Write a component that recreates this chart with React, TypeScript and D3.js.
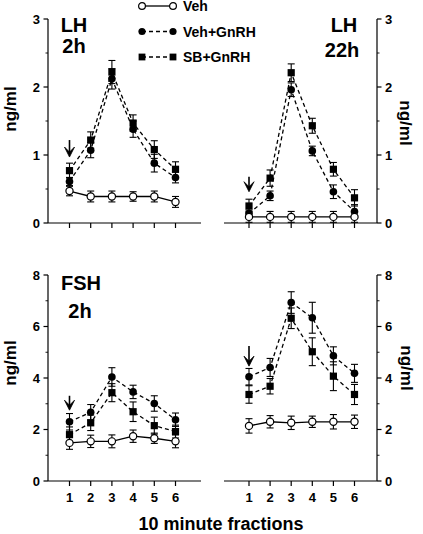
import React from "react";
import * as d3 from "d3";

// ---------- data ----------
const fractions = [1, 2, 3, 4, 5, 6];

const lh2hVeh = [0.47, 0.39, 0.39, 0.39, 0.39, 0.31];
const lh2hVehErr = [0.07, 0.08, 0.08, 0.07, 0.08, 0.08];
const lh2hVehGnrh = [0.61, 1.07, 2.12, 1.38, 0.88, 0.67];
const lh2hVehGnrhErr = [0.06, 0.11, 0.15, 0.12, 0.13, 0.08];
const lh2hSbGnrh = [0.77, 1.22, 2.22, 1.47, 1.08, 0.79];
const lh2hSbGnrhErr = [0.11, 0.12, 0.17, 0.12, 0.13, 0.11];

const lh22hVeh = [0.09, 0.09, 0.09, 0.09, 0.09, 0.09];
const lh22hVehErr = [0.08, 0.08, 0.08, 0.08, 0.08, 0.08];
const lh22hVehGnrh = [0.14, 0.4, 1.96, 1.06, 0.46, 0.17];
const lh22hVehGnrhErr = [0.05, 0.07, 0.1, 0.07, 0.1, 0.1];
const lh22hSbGnrh = [0.25, 0.66, 2.21, 1.43, 0.79, 0.37];
const lh22hSbGnrhErr = [0.1, 0.12, 0.13, 0.11, 0.1, 0.12];

const fsh2hVeh = [1.48, 1.54, 1.54, 1.74, 1.66, 1.54];
const fsh2hVehErr = [0.25, 0.24, 0.25, 0.24, 0.2, 0.25];
const fsh2hVehGnrh = [2.3, 2.67, 4.04, 3.46, 3.01, 2.38];
const fsh2hVehGnrhErr = [0.32, 0.3, 0.36, 0.26, 0.3, 0.26];
const fsh2hSbGnrh = [1.8, 2.26, 3.43, 2.69, 2.15, 1.92];
const fsh2hSbGnrhErr = [0.3, 0.3, 0.35, 0.38, 0.33, 0.25];

const fsh22hVeh = [2.14, 2.3, 2.26, 2.3, 2.3, 2.3];
const fsh22hVehErr = [0.28, 0.24, 0.26, 0.22, 0.28, 0.26];
const fsh22hVehGnrh = [4.05, 4.41, 6.93, 6.34, 4.86, 4.18];
const fsh22hVehGnrhErr = [0.32, 0.35, 0.42, 0.6, 0.35, 0.35];
const fsh22hSbGnrh = [3.36, 3.68, 6.32, 5.02, 4.07, 3.36];
const fsh22hSbGnrhErr = [0.34, 0.3, 0.4, 0.54, 0.56, 0.39];

const lhTicks = [0, 1, 2, 3];
const lhMinor = [0.5, 1.5, 2.5];
const fshTicks = [0, 2, 4, 6, 8];
const fshMinor = [1, 3, 5, 7];

const legendLabels = ["Veh", "Veh+GnRH", "SB+GnRH"];
const yLabel = "ng/ml";
const xLabel = "10 minute fractions";

// arrow annotations [top value, tip value] at fraction 1
const arrowLh2h = [1.22, 0.97];
const arrowLh22h = [0.68, 0.46];
const arrowFsh2h = [3.31, 2.75];
const arrowFsh22h = [5.24, 4.46];

// ---------- layout ----------
const FONT = "'Liberation Sans', Arial, Helvetica, sans-serif";

type Panel = {
  side: "left" | "right";
  x0: number; x1: number;
  axisStart: number; axisEnd: number;
  yTop: number; yBottom: number;
  domainMax: number;
  ticks: number[]; minor: number[];
  veh: number[]; vehErr: number[];
  vg: number[]; vgErr: number[];
  sb: number[]; sbErr: number[];
  arrow: number[];
  title: string[]; titleX: number[]; titleY: number[];
  labelX: number; labelY: number;
  showXLabels: boolean;
};

const panels: Panel[] = [
  {
    side: "left", x0: 69.5, x1: 175.5, axisStart: 48, axisEnd: 201,
    yTop: 19, yBottom: 223, domainMax: 3, ticks: lhTicks, minor: lhMinor,
    veh: lh2hVeh, vehErr: lh2hVehErr, vg: lh2hVehGnrh, vgErr: lh2hVehGnrhErr,
    sb: lh2hSbGnrh, sbErr: lh2hSbGnrhErr, arrow: arrowLh2h,
    title: ["LH", "2h"], titleX: [74, 74], titleY: [32, 53],
    labelX: 10, labelY: 109, showXLabels: false,
  },
  {
    side: "right", x0: 249, x1: 354.5, axisStart: 224, axisEnd: 377,
    yTop: 19, yBottom: 223, domainMax: 3, ticks: lhTicks, minor: lhMinor,
    veh: lh22hVeh, vehErr: lh22hVehErr, vg: lh22hVehGnrh, vgErr: lh22hVehGnrhErr,
    sb: lh22hSbGnrh, sbErr: lh22hSbGnrhErr, arrow: arrowLh22h,
    title: ["LH", "22h"], titleX: [344, 342], titleY: [32, 57],
    labelX: 406, labelY: 123, showXLabels: false,
  },
  {
    side: "left", x0: 69.5, x1: 175.5, axisStart: 48, axisEnd: 201,
    yTop: 275, yBottom: 481, domainMax: 8, ticks: fshTicks, minor: fshMinor,
    veh: fsh2hVeh, vehErr: fsh2hVehErr, vg: fsh2hVehGnrh, vgErr: fsh2hVehGnrhErr,
    sb: fsh2hSbGnrh, sbErr: fsh2hSbGnrhErr, arrow: arrowFsh2h,
    title: ["FSH", "2h"], titleX: [81, 80], titleY: [290, 318],
    labelX: 10, labelY: 363, showXLabels: true,
  },
  {
    side: "right", x0: 249, x1: 354.5, axisStart: 224, axisEnd: 377,
    yTop: 275, yBottom: 481, domainMax: 8, ticks: fshTicks, minor: fshMinor,
    veh: fsh22hVeh, vehErr: fsh22hVehErr, vg: fsh22hVehGnrh, vgErr: fsh22hVehGnrhErr,
    sb: fsh22hSbGnrh, sbErr: fsh22hSbGnrhErr, arrow: arrowFsh22h,
    title: [], titleX: [], titleY: [],
    labelX: 407, labelY: 368, showXLabels: true,
  },
];

const SW = 1.3;

function ErrorBars({ xs, ys, errs, x, y }: any) {
  return (
    <g stroke="#000" strokeWidth={1.1}>
      {xs.map((f: number, i: number) => {
        const cx = x(f);
        const top = y(ys[i] + errs[i]);
        const bot = y(ys[i] - errs[i]);
        return (
          <g key={i}>
            <line x1={cx} x2={cx} y1={top} y2={bot} />
            <line x1={cx - 3.5} x2={cx + 3.5} y1={top} y2={top} />
            <line x1={cx - 3.5} x2={cx + 3.5} y1={bot} y2={bot} />
          </g>
        );
      })}
    </g>
  );
}

function PanelView({ p }: { p: Panel }) {
  const x = d3.scaleLinear().domain([1, 6]).range([p.x0, p.x1]);
  const y = d3.scaleLinear().domain([0, p.domainMax]).range([p.yBottom, p.yTop]);
  const yAxisX = p.side === "left" ? p.axisStart : p.axisEnd;
  const dir = p.side === "left" ? -1 : 1;
  const line = d3
    .line<number>()
    .x((_, i) => x(fractions[i]))
    .y((d) => y(d));

  const ax = x(1);
  const aTop = y(p.arrow[0]);
  const aTip = y(p.arrow[1]);

  return (
    <g>
      <g stroke="#000" strokeWidth={1.2} fill="none">
        <line x1={p.axisStart} x2={p.axisEnd} y1={p.yBottom} y2={p.yBottom} />
        <line x1={yAxisX} x2={yAxisX} y1={p.yTop} y2={p.yBottom} />
        {p.ticks.map((t) => (
          <line key={"t" + t} x1={yAxisX} x2={yAxisX + dir * 4.5} y1={y(t)} y2={y(t)} />
        ))}
        {p.minor.map((t) => (
          <line key={"m" + t} x1={yAxisX} x2={yAxisX + dir * 2.5} y1={y(t)} y2={y(t)} strokeWidth={0.9} />
        ))}
        {fractions.map((f) => (
          <line key={"x" + f} x1={x(f)} x2={x(f)} y1={p.yBottom} y2={p.yBottom + 5} />
        ))}
      </g>
      <g fontFamily={FONT} fontWeight="bold" fontSize={13} fill="#000">
        {p.ticks.map((t) => (
          <text
            key={"l" + t}
            x={yAxisX + dir * 8}
            y={y(t)}
            dy="0.36em"
            textAnchor={p.side === "left" ? "end" : "start"}
          >
            {t}
          </text>
        ))}
        {p.showXLabels &&
          fractions.map((f) => (
            <text key={"xl" + f} x={x(f)} y={p.yBottom + 21} textAnchor="middle">
              {f}
            </text>
          ))}
      </g>
      <text
        transform={`translate(${p.labelX},${p.labelY}) rotate(${p.side === "left" ? -90 : 90})`}
        textAnchor="middle"
        dy="0.35em"
        fontFamily={FONT}
        fontWeight="bold"
        fontSize={17}
      >
        {yLabel}
      </text>
      {p.title.map((t, i) => (
        <text
          key={"ti" + i}
          x={p.titleX[i]}
          y={p.titleY[i]}
          textAnchor="middle"
          fontFamily={FONT}
          fontWeight="bold"
          fontSize={20}
        >
          {t}
        </text>
      ))}

      <path d={line(p.veh) || ""} fill="none" stroke="#000" strokeWidth={SW} />
      <path d={line(p.vg) || ""} fill="none" stroke="#000" strokeWidth={SW} strokeDasharray="4,3" />
      <path d={line(p.sb) || ""} fill="none" stroke="#000" strokeWidth={SW} strokeDasharray="4,3" />

      <ErrorBars xs={fractions} ys={p.veh} errs={p.vehErr} x={x} y={y} />
      <ErrorBars xs={fractions} ys={p.vg} errs={p.vgErr} x={x} y={y} />
      <ErrorBars xs={fractions} ys={p.sb} errs={p.sbErr} x={x} y={y} />

      {fractions.map((f, i) => (
        <circle key={"vg" + i} cx={x(f)} cy={y(p.vg[i])} r={3.8} fill="#000" />
      ))}
      {fractions.map((f, i) => (
        <rect key={"sb" + i} x={x(f) - 3.6} y={y(p.sb[i]) - 3.6} width={7.2} height={7.2} fill="#000" />
      ))}
      {fractions.map((f, i) => (
        <circle
          key={"v" + i}
          cx={x(f)}
          cy={y(p.veh[i])}
          r={3.6}
          fill="#fff"
          stroke="#000"
          strokeWidth={1.2}
        />
      ))}

      <line x1={ax} x2={ax} y1={aTop} y2={aTip - 3} stroke="#000" strokeWidth={1.6} />
      <path
        d={`M${ax - 5},${aTip - 10} L${ax},${aTip} L${ax + 5},${aTip - 10} L${ax},${aTip - 5} Z`}
        fill="#000"
        stroke="#000"
        strokeWidth={0.8}
      />
    </g>
  );
}

function Legend() {
  const rows = [6, 31.5, 57];
  const xa = 142;
  const xb = 173;
  return (
    <g>
      {legendLabels.map((lab, i) => {
        const yy = rows[i];
        return (
          <g key={lab}>
            <line
              x1={xa}
              x2={xb}
              y1={yy}
              y2={yy}
              stroke="#000"
              strokeWidth={SW}
              strokeDasharray={i === 0 ? undefined : "4,3"}
            />
            {i === 0 && (
              <>
                <circle cx={xa} cy={yy} r={3.4} fill="#fff" stroke="#000" strokeWidth={1.2} />
                <circle cx={xb} cy={yy} r={3.4} fill="#fff" stroke="#000" strokeWidth={1.2} />
              </>
            )}
            {i === 1 && (
              <>
                <circle cx={xa} cy={yy} r={3.6} fill="#000" />
                <circle cx={xb} cy={yy} r={3.6} fill="#000" />
              </>
            )}
            {i === 2 && (
              <>
                <rect x={xa - 3.4} y={yy - 3.4} width={6.8} height={6.8} fill="#000" />
                <rect x={xb - 3.4} y={yy - 3.4} width={6.8} height={6.8} fill="#000" />
              </>
            )}
            <text x={183} y={yy} dy="0.36em" fontFamily={FONT} fontWeight="bold" fontSize={14}>
              {lab}
            </text>
          </g>
        );
      })}
    </g>
  );
}

export default function App() {
  return (
    <svg
      width={423}
      height={534}
      style={{ position: "absolute", left: 0, top: 0, background: "#fff" }}
    >
      <rect width={423} height={534} fill="#fff" />
      {panels.map((p, i) => (
        <PanelView key={i} p={p} />
      ))}
      <Legend />
      <text
        x={221}
        y={530}
        textAnchor="middle"
        fontFamily={FONT}
        fontWeight="bold"
        fontSize={18}
      >
        {xLabel}
      </text>
    </svg>
  );
}
